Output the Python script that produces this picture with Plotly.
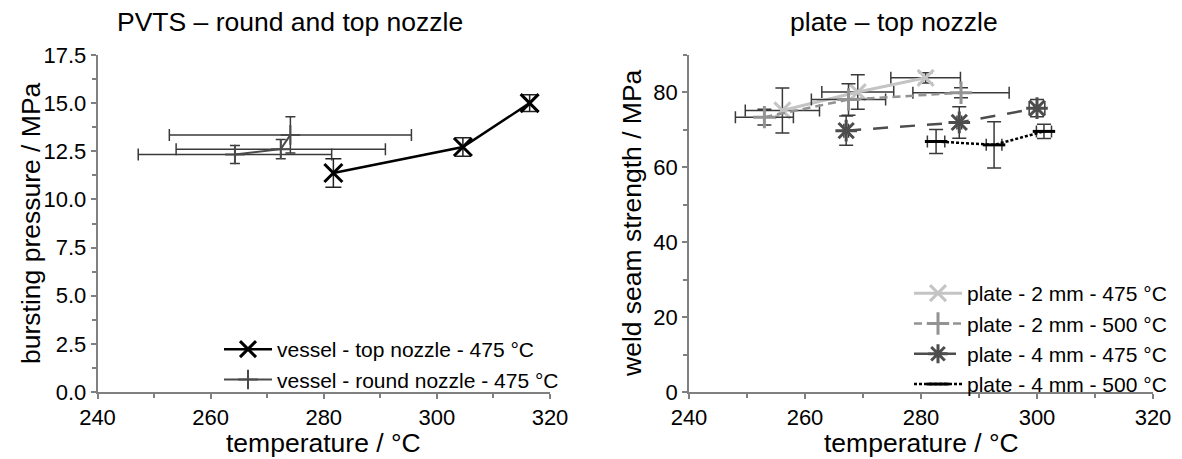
import plotly.graph_objects as go

# ---------------- data: left panel (PVTS) ----------------
top_T = [281.7, 304.6, 316.4]
top_P = [11.37, 12.72, 15.0]
top_P_err = [0.74, 0.48, 0.43]

round_T = [264.3, 272.4, 274.1]
round_T_err = [17.1, 18.5, 21.4]
round_P = [12.33, 12.61, 13.35]
round_P_err = [0.47, 0.5, 0.94]

# ---------------- data: right panel (plate) ----------------
p2_475_T = [256.1, 269.1, 280.8]
p2_475_T_err = [6.4, 6.2, 6.0]
p2_475_S = [75.2, 80.1, 83.9]
p2_475_S_err = [6.0, 4.6, 1.35]

p2_500_T = [253.0, 267.5, 286.9]
p2_500_T_err = [5.0, 6.4, 8.3]
p2_500_S = [73.4, 78.1, 79.9]
p2_500_S_err = [2.1, 4.2, 1.35]

p4_475_T = [267.1, 286.6, 300.0]
p4_475_T_err = [0.4, 0.4, 1.35]
p4_475_S = [69.8, 72.0, 75.8]
p4_475_S_err = [3.9, 4.2, 2.3]

p4_500_T = [282.6, 292.6, 301.2]
p4_500_T_err = [1.5, 1.35, 1.3]
p4_500_S = [66.9, 66.0, 69.6]
p4_500_S_err = [3.2, 6.2, 1.9]

x_ticks = [240, 260, 280, 300, 320]
left_y_ticks = [0.0, 2.5, 5.0, 7.5, 10.0, 12.5, 15.0, 17.5]
right_y_ticks = [0, 20, 40, 60, 80]

FONT = "Liberation Sans, Arial, sans-serif"
OFF = 8                     # page body margin
W, H = 1182 - OFF, 459 - OFF
ERR = "#3a3a3a"


def px(x):
    return (x - OFF) / W


def py(y):
    return 1 - (y - OFF) / H


fig = go.Figure()

# left panel traces
fig.add_trace(go.Scatter(
    x=top_T, y=top_P, mode="lines+markers", name="vessel - top nozzle - 475 °C",
    line=dict(color="black", width=2.5),
    marker=dict(symbol="x-thin-open", size=18, line=dict(color="black", width=3)),
    error_y=dict(type="data", array=top_P_err, color="#222222", thickness=1.5, width=8),
    xaxis="x", yaxis="y", legend="legend"))
fig.add_trace(go.Scatter(
    x=round_T, y=round_P, mode="lines+markers", name="vessel - round nozzle - 475 °C",
    line=dict(color="#4a4a4a", width=2),
    marker=dict(symbol="cross-thin-open", size=14, line=dict(color="#4a4a4a", width=2)),
    error_y=dict(type="data", array=round_P_err, color=ERR, thickness=1.5, width=5),
    error_x=dict(type="data", array=round_T_err, color=ERR, thickness=1.5, width=6),
    xaxis="x", yaxis="y", legend="legend"))

# right panel traces
fig.add_trace(go.Scatter(
    x=p2_475_T, y=p2_475_S, mode="lines+markers", name="plate - 2 mm - 475 °C",
    line=dict(color="#c4c4c4", width=3),
    marker=dict(symbol="x-thin-open", size=16, line=dict(color="#c4c4c4", width=3)),
    error_y=dict(type="data", array=p2_475_S_err, color=ERR, thickness=1.5, width=7),
    error_x=dict(type="data", array=p2_475_T_err, color=ERR, thickness=1.5, width=6),
    xaxis="x2", yaxis="y2", legend="legend2"))
fig.add_trace(go.Scatter(
    x=p2_500_T, y=p2_500_S, mode="lines+markers", name="plate - 2 mm - 500 °C",
    line=dict(color="#939393", width=2.5, dash="8px,5px"),
    marker=dict(symbol="cross-thin-open", size=16, line=dict(color="#939393", width=3)),
    error_y=dict(type="data", array=p2_500_S_err, color=ERR, thickness=1.5, width=7),
    error_x=dict(type="data", array=p2_500_T_err, color=ERR, thickness=1.5, width=6),
    xaxis="x2", yaxis="y2", legend="legend2"))
fig.add_trace(go.Scatter(
    x=p4_475_T, y=p4_475_S, mode="lines+markers", name="plate - 4 mm - 475 °C",
    line=dict(color="#4d4d4d", width=2.5, dash="15px,12px"),
    marker=dict(symbol="asterisk-open", size=18, line=dict(color="#4d4d4d", width=3)),
    error_y=dict(type="data", array=p4_475_S_err, color=ERR, thickness=1.5, width=7),
    error_x=dict(type="data", array=p4_475_T_err, color=ERR, thickness=1.5, width=7),
    xaxis="x2", yaxis="y2", legend="legend2"))
fig.add_trace(go.Scatter(
    x=p4_500_T, y=p4_500_S, mode="lines+markers", name="plate - 4 mm - 500 °C",
    line=dict(color="black", width=2.5, dash="3px,2px"),
    marker=dict(symbol="line-ew-open", size=16, line=dict(color="black", width=3)),
    error_y=dict(type="data", array=p4_500_S_err, color=ERR, thickness=1.5, width=7),
    error_x=dict(type="data", array=p4_500_T_err, color=ERR, thickness=1.5, width=6),
    xaxis="x2", yaxis="y2", legend="legend2"))

ydom = [py(392), py(55)]
axis_common = dict(showline=True, linecolor="#808080", linewidth=1.5, ticks="outside",
                   ticklen=5, tickwidth=1.5, tickcolor="#808080", showgrid=False,
                   zeroline=False, automargin=False,
                   tickfont=dict(family=FONT, size=22, color="black"))
minor_common = dict(ticks="outside", ticklen=4, tickcolor="#808080", tickwidth=1.5)

fig.update_layout(
    width=W, height=H, margin=dict(l=0, r=0, t=0, b=0, autoexpand=False),
    plot_bgcolor="white", paper_bgcolor="white",
    font=dict(family=FONT, color="black"),
    xaxis=dict(domain=[px(97.5), px(550)], range=[240, 320], tickvals=x_ticks,
               minor=dict(dtick=10, **minor_common), anchor="y", **axis_common),
    yaxis=dict(domain=ydom, range=[0, 17.5], tickvals=left_y_ticks, tickformat=".1f",
               minor=dict(dtick=1.25, **minor_common), anchor="x", **axis_common),
    xaxis2=dict(domain=[px(689), px(1153)], range=[240, 320], tickvals=x_ticks,
                minor=dict(dtick=10, **minor_common), anchor="y2", **axis_common),
    yaxis2=dict(domain=ydom, range=[0, 90], tickvals=right_y_ticks,
                minor=dict(dtick=10, **minor_common), anchor="x2", **axis_common),
    legend=dict(x=px(219), y=py(329), xanchor="left", yanchor="top", itemwidth=48,
                bgcolor="rgba(0,0,0,0)", font=dict(family=FONT, size=21, color="black")),
    legend2=dict(x=px(909), y=py(273), xanchor="left", yanchor="top", itemwidth=48,
                 bgcolor="rgba(0,0,0,0)", font=dict(family=FONT, size=21, color="black")),
)

ann = []


def txt(x, y, s, size=26.5, angle=0):
    ann.append(dict(x=px(x), y=py(y), xref="paper", yref="paper", text=s, showarrow=False,
                    textangle=angle, xanchor="center", yanchor="middle",
                    font=dict(family=FONT, size=size, color="black")))


txt(289.5, 22, "PVTS – round and top nozzle")
txt(894, 22, "plate – top nozzle")
txt(323.8, 443, "temperature / °C")
txt(921, 443, "temperature / °C")
txt(31, 223, "bursting pressure / MPa", angle=-90)
txt(632, 223, "weld seam strength / MPa", angle=-90)
fig.update_layout(annotations=ann)

fig.write_html("out.html")
